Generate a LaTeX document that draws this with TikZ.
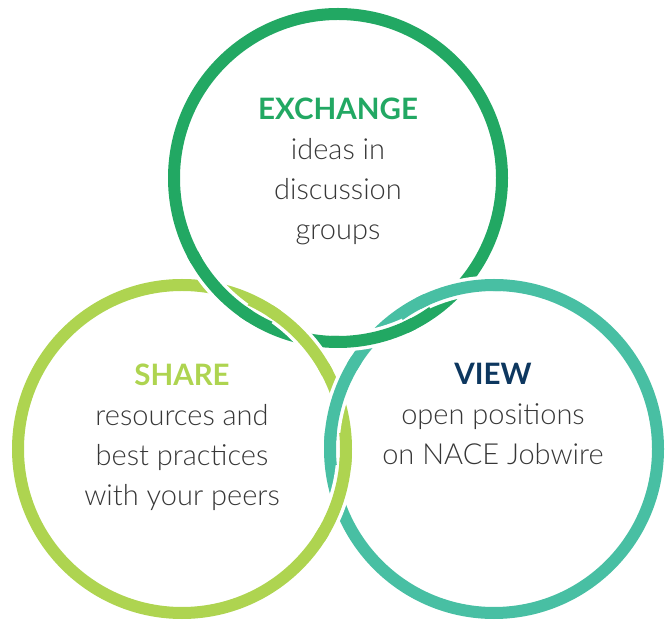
\documentclass[tikz,border=0pt]{standalone}
\usepackage{fontspec}
\setmainfont{Lato}[UprightFont=* Light, BoldFont=* Bold]
\definecolor{dgreen}{RGB}{34,168,99}
\definecolor{lgreen}{RGB}{174,212,80}
\definecolor{teal2}{RGB}{72,191,163}
\definecolor{navy}{RGB}{13,55,95}
\definecolor{bodygray}{RGB}{55,55,55}
\newcommand\ringover[3]{%
  \draw[white, line width=19pt] (#1) ++(#2-12:164pt) arc[start angle=#2-12, end angle=#2+12, radius=164pt];
  \draw[#3, line width=12pt] (#1) ++(#2-15:164pt) arc[start angle=#2-15, end angle=#2+15, radius=164pt];}
\begin{document}
\begin{tikzpicture}[x=1pt,y=1pt,
  ring/.style={line width=12pt},
  head/.style={anchor=base, inner sep=0pt, font=\fontsize{29.5}{34}\selectfont\bfseries},
  txt/.style={anchor=base, inner sep=0pt, text=bodygray, font=\fontsize{29}{34}\selectfont}]
\useasboundingbox (0,0) rectangle (669,621);
\coordinate (dg) at (338,443);
\coordinate (lg) at (182,172);
\coordinate (tl) at (494,172);
\draw[ring, dgreen] (dg) circle[radius=164pt];
\draw[ring, lgreen] (lg) circle[radius=164pt];
\draw[ring, teal2] (tl) circle[radius=164pt];
% interlacing
\ringover{dg}{222.5}{dgreen}
\ringover{dg}{282.4}{dgreen}
\ringover{lg}{42.5}{lgreen}
\ringover{lg}{-18}{lgreen}
\ringover{tl}{102.4}{teal2}
\ringover{tl}{162}{teal2}
% texts
\node[head, text=dgreen] (ex0) at (338,501) {EXCHANGE};
\node[txt] (ex1) at (338,461) {ideas in};
\node[txt] (ex2) at (338,421) {discussion};
\node[txt] (ex3) at (338,381) {groups};
\node[head, text=lgreen] (sh0) at (182,235) {SHARE};
\node[txt] (sh1) at (182,195) {resources and};
\node[txt] (sh2) at (182,155) {best practices};
\node[txt] (sh3) at (182,115) {with your peers};
\node[head, text=navy] (vw0) at (493,236) {VIEW};
\node[txt] (vw1) at (493,196) {open positions};
\node[txt] (vw2) at (493,156) {on NACE Jobwire};
\end{tikzpicture}
\end{document}
